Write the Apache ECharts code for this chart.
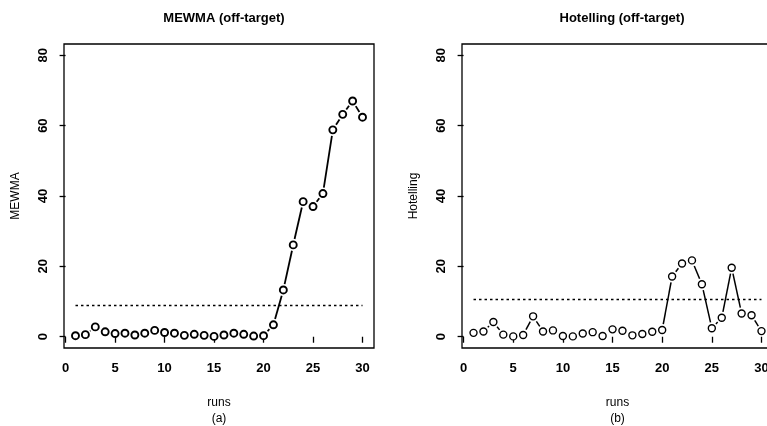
<!DOCTYPE html>
<html>
<head>
<meta charset="utf-8">
<script src="https://cdn.jsdelivr.net/npm/echarts@6/dist/echarts.min.js"></script>
<style>
  html, body { margin: 0; padding: 0; background: #fff; }
  #chart { width: 767px; height: 426px; }
</style>
</head>
<body>
<div id="chart"></div>
<script>
// Run numbers shared by both panels
const runs = [1,2,3,4,5,6,7,8,9,10,11,12,13,14,15,16,17,18,19,20,21,22,23,24,25,26,27,28,29,30];

// MEWMA statistic per run
const mewma = [0.3,0.6,2.8,1.4,0.9,1.0,0.5,1.0,1.8,1.2,1.0,0.4,0.7,0.4,0.1,0.5,1.0,0.7,0.2,0.3,
               3.4,13.3,26.1,38.4,37.0,40.7,58.8,63.2,67.0,62.4];
const mewmaLimit = 8.9;

// Hotelling T^2 statistic per run
const hotelling = [1.1,1.5,4.2,0.6,0.1,0.5,5.8,1.5,1.8,0.2,0.1,0.9,1.3,0.2,2.1,1.7,0.4,0.8,1.4,1.9,
                   17.1,20.8,21.7,14.9,2.4,5.4,19.6,6.6,6.1,1.6];
const hotellingLimit = 10.6;

const xTicks = [0, 5, 10, 15, 20, 25, 30];
const yTicks = [0, 20, 40, 60, 80];

const FONT = '"Liberation Sans", Arial, Helvetica, sans-serif';

const chart = echarts.init(document.getElementById('chart'), null, { renderer: 'canvas' });

function pairs(vals) { return vals.map((v, i) => [runs[i], v]); }

// Segments between consecutive points, trimmed near each point (type "b" look)
function gappedLine(gridIdx, vals, width) {
  const data = pairs(vals);
  return {
    type: 'custom',
    xAxisIndex: gridIdx, yAxisIndex: gridIdx,
    data: data.slice(1).map((d, i) => [data[i][0], data[i][1], d[0], d[1]]),
    encode: { x: [0, 2], y: [1, 3] },
    silent: true,
    z: 2,
    renderItem: function (params, api) {
      const p0 = api.coord([api.value(0), api.value(1)]);
      const p1 = api.coord([api.value(2), api.value(3)]);
      const dx = p1[0] - p0[0], dy = p1[1] - p0[1];
      const len = Math.sqrt(dx * dx + dy * dy);
      const gap = 6;
      if (len <= 2 * gap + 0.5) return null;
      const ux = dx / len, uy = dy / len;
      return {
        type: 'line',
        shape: { x1: p0[0] + ux * gap, y1: p0[1] + uy * gap, x2: p1[0] - ux * gap, y2: p1[1] - uy * gap },
        style: { stroke: '#000', lineWidth: width }
      };
    }
  };
}

function points(gridIdx, vals, bw) {
  return {
    type: 'scatter',
    xAxisIndex: gridIdx, yAxisIndex: gridIdx,
    data: pairs(vals),
    symbol: 'circle',
    symbolSize: 7,
    itemStyle: { color: '#fff', borderColor: '#000', borderWidth: bw, opacity: 1 },
    silent: true,
    z: 3
  };
}

function limitLine(gridIdx, limit) {
  return {
    type: 'line',
    xAxisIndex: gridIdx, yAxisIndex: gridIdx,
    data: [[runs[0], limit], [runs[runs.length - 1], limit]],
    symbol: 'none',
    lineStyle: { color: '#000', width: 1.4, type: [2.5, 3] },
    silent: true,
    z: 1
  };
}

function xAxis(gridIdx, sub) {
  return {
    type: 'value', gridIndex: gridIdx,
    min: -0.16, max: 31.16,
    name: 'runs\n(' + sub + ')',
    nameLocation: 'middle', nameGap: 47,
    nameTextStyle: { color: '#000', fontFamily: FONT, fontSize: 12, lineHeight: 16 },
    axisLine: { show: false },
    axisTick: { show: true, inside: false, length: 6, lineStyle: { color: '#000', width: 1.3 }, customValues: xTicks },
    axisLabel: { color: '#000', fontFamily: FONT, fontSize: 13, fontWeight: 'bold', margin: 14, customValues: xTicks },
    splitLine: { show: false }
  };
}

function yAxis(gridIdx, name, gap) {
  return {
    type: 'value', gridIndex: gridIdx,
    min: -3.2, max: 83.2,
    name: name,
    nameLocation: 'middle', nameGap: gap,
    nameTextStyle: { color: '#000', fontFamily: FONT, fontSize: 12 },
    axisLine: { show: false },
    axisTick: { show: true, inside: false, length: 6, lineStyle: { color: '#000', width: 1.3 }, customValues: yTicks },
    axisLabel: { color: '#000', fontFamily: FONT, fontSize: 13, fontWeight: 'bold', rotate: 90, margin: 14, customValues: yTicks },
    splitLine: { show: false }
  };
}

const option = {
  backgroundColor: '#fff',
  animation: false,
  title: [
    { text: 'MEWMA (off-target)', left: 219, top: 7, textAlign: 'center',
      textStyle: { color: '#000', fontFamily: FONT, fontSize: 13, fontWeight: 'bold' } },
    { text: 'Hotelling (off-target)', left: 617, top: 7, textAlign: 'center',
      textStyle: { color: '#000', fontFamily: FONT, fontSize: 13, fontWeight: 'bold' } }
  ],
  grid: [
    { left: 64, top: 44, width: 310, height: 304, outerBoundsMode: 'none', containLabel: false,
      show: true, borderColor: '#000', borderWidth: 1.3, backgroundColor: 'transparent' },
    { left: 462, top: 44, width: 311, height: 304, outerBoundsMode: 'none', containLabel: false,
      show: true, borderColor: '#000', borderWidth: 1.3, backgroundColor: 'transparent' }
  ],
  xAxis: [xAxis(0, 'a'), xAxis(1, 'b')],
  yAxis: [yAxis(0, 'MEWMA', 42), yAxis(1, 'Hotelling', 42)],
  series: [
    limitLine(0, mewmaLimit),
    gappedLine(0, mewma, 1.8),
    points(0, mewma, 1.9),
    limitLine(1, hotellingLimit),
    gappedLine(1, hotelling, 1.5),
    points(1, hotelling, 1.4)
  ]
};

chart.setOption(option);
</script>
</body>
</html>
